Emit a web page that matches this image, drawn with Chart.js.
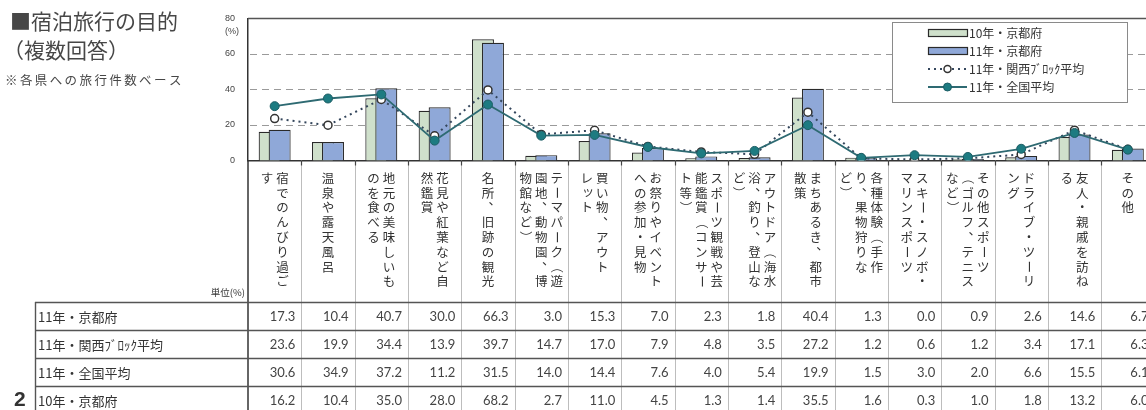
<!DOCTYPE html>
<html><head><meta charset="utf-8">
<script src="https://cdn.jsdelivr.net/npm/chart.js@4.4.1/dist/chart.umd.min.js"></script>
<style>
html,body{margin:0;padding:0;background:#fff;overflow:hidden;}
#wrap{position:absolute;left:0;top:0;width:1160px;height:410px;}
</style></head><body>
<div id="wrap"><canvas id="c"></canvas></div>
<script>
// ---- data ----
const categories = [
  ["宿でのんびり過ご","す"],
  ["温泉や露天風呂"],
  ["地元の美味しいも","のを食べる"],
  ["花見や紅葉など自","然鑑賞"],
  ["名所、旧跡の観光"],
  ["テーマパーク（遊","園地、動物園、博","物館など）"],
  ["買い物、アウト","レット"],
  ["お祭りやイベント","への参加・見物"],
  ["スポーツ観戦や芸","能鑑賞（コンサー","ト等）"],
  ["アウトドア（海水","浴、釣り、登山な","ど）"],
  ["まちあるき、都市","散策"],
  ["各種体験（手作","り、果物狩りな","ど）"],
  ["スキー・スノボ・","マリンスポーツ"],
  ["その他スポーツ","（ゴルフ、テニス","など）"],
  ["ドライブ・ツーリ","ング"],
  ["友人・親戚を訪ね","る"],
  ["その他"]
];
const kyoto10   = [16.2,10.4,35.0,28.0,68.2,2.7,11.0,4.5,1.3,1.4,35.5,1.6,0.3,1.0,1.8,13.2,6.0];
const kyoto11   = [17.3,10.4,40.7,30.0,66.3,3.0,15.3,7.0,2.3,1.8,40.4,1.3,0.0,0.9,2.6,14.6,6.7];
const kansai11  = [23.6,19.9,34.4,13.9,39.7,14.7,17.0,7.9,4.8,3.5,27.2,1.2,0.6,1.2,3.4,17.1,6.3];
const national11= [30.6,34.9,37.2,11.2,31.5,14.0,14.4,7.6,4.0,5.4,19.9,1.5,3.0,2.0,6.6,15.5,6.1];
const yTicks = [0,20,40,60,80];
const seriesNames = ["10年・京都府","11年・京都府","11年・関西ﾌﾞﾛｯｸ平均","11年・全国平均"];
const tableRows = [
  {name: seriesNames[1], values: kyoto11},
  {name: seriesNames[2], values: kansai11},
  {name: seriesNames[3], values: national11},
  {name: seriesNames[0], values: kyoto10}
];
const titleLines = ["■宿泊旅行の目的","（複数回答）"];
const noteText = "※各県への旅行件数ベース";
const unitText = "単位(%)";
const pageNo = "2";

const JP = '"Noto Sans CJK JP","Noto Sans CJK SC",sans-serif';
const NUM = 'Lato,"DejaVu Sans",sans-serif';
const GREEN = 2, BLUE = 3; // dataset indexes

const ROT = 'ー－（）〜～—';
const PUNCT = '、。';
const SMALL = 'ッャュョァィゥェォっゃゅょぁぃぅぇぉ';
function drawVert(ctx, str, x, y0, step, size){
  const chars = [...str];
  chars.forEach((ch,k)=>{
    const y = y0 + k*step;
    ctx.save(); ctx.translate(x,y);
    if (ROT.includes(ch)) ctx.rotate(Math.PI/2);
    else if (PUNCT.includes(ch)) ctx.translate(size*0.55,-size*0.55);
    else if (SMALL.includes(ch)) ctx.translate(size*0.1,-size*0.1);
    ctx.fillText(ch,0,0);
    ctx.restore();
  });
}

const gridPlugin = {
  id:'gridPlugin',
  beforeDatasetsDraw(chart){
    const {ctx, chartArea:a, scales:{y}} = chart;
    ctx.save();
    ctx.strokeStyle = '#9a9a9a'; ctx.lineWidth = 1; ctx.setLineDash([7,5]);
    yTicks.forEach(v=>{
      if (v===yTicks[0] || v===yTicks[yTicks.length-1]) return;
      const py = Math.round(y.getPixelForValue(v))+0.5;
      ctx.beginPath(); ctx.moveTo(a.left+2,py); ctx.lineTo(a.right,py); ctx.stroke();
    });
    ctx.setLineDash([]);
    ctx.strokeStyle = '#555'; ctx.lineWidth = 1.3;
    const top = Math.round(y.getPixelForValue(yTicks[yTicks.length-1]))+0.5;
    ctx.beginPath(); ctx.moveTo(a.left,top); ctx.lineTo(a.right,top); ctx.stroke();
    ctx.restore();
  }
};

const barOrderPlugin = {
  id:'barOrder',
  beforeDatasetsDraw(chart){
    const meta = chart.getDatasetMeta(GREEN);
    if (chart.isDatasetVisible(GREEN)) meta.controller.draw();
  },
  beforeDatasetDraw(chart,args){
    if (args.index === GREEN) return false;
  }
};

const decoPlugin = {
  id:'deco',
  afterDraw(chart){
    const {ctx, chartArea:a, scales:{x,y}} = chart;
    const n = categories.length;
    const w = x.getPixelForValue(1)-x.getPixelForValue(0);
    const zero = y.getPixelForValue(0);
    const H = chart.height;
    ctx.save();
    // titles
    ctx.fillStyle = '#474747'; ctx.textBaseline='middle'; ctx.textAlign='left';
    ctx.font = '21px '+JP;
    ctx.fillText(titleLines[0], 10, 21);
    ctx.fillText(titleLines[1], 3, 50);
    ctx.font = '12.5px '+JP; ctx.letterSpacing='2.4px';
    ctx.fillText(noteText, 5, 80);
    ctx.letterSpacing='0px';
    // (%) under top tick
    ctx.font = '9px "Liberation Sans",sans-serif'; ctx.fillStyle='#444';
    ctx.fillText('(%)', 225, 32);
    // separators in label area & table
    const tableTop = 302, rowH = 28;
    ctx.strokeStyle = '#bdbdbd'; ctx.lineWidth = 1;
    for (let i=1;i<=n;i++){
      const bx = Math.round(x.getPixelForValue(i)-w/2)+0.5;
      ctx.beginPath(); ctx.moveTo(bx,zero); ctx.lineTo(bx,H); ctx.stroke();
    }
    ctx.strokeStyle = '#444'; ctx.lineWidth = 1.2;
    for (let i=1;i<=n;i++){
      const bx = Math.round(x.getPixelForValue(i)-w/2)+0.5;
      ctx.beginPath(); ctx.moveTo(bx,zero); ctx.lineTo(bx,zero+5); ctx.stroke();
    }
    // axis continues down
    ctx.strokeStyle = '#333'; ctx.lineWidth = 1.5;
    ctx.beginPath(); ctx.moveTo(a.left,zero); ctx.lineTo(a.left,H); ctx.stroke();
    // vertical labels
    ctx.fillStyle = '#333'; ctx.font = '12.5px '+JP; ctx.textAlign='center'; ctx.textBaseline='middle';
    const gap = 15.5, step = 14.8, y0 = 178;
    categories.forEach((cols,i)=>{
      const cx = x.getPixelForValue(i);
      cols.forEach((s,k)=>{
        const colX = cx + ((cols.length-1)/2 - k)*gap;
        drawVert(ctx, s, colX, y0, step, 12.5);
      });
    });
    // unit
    ctx.font = '9.5px '+JP; ctx.textAlign='right'; ctx.fillStyle='#333';
    ctx.fillText(unitText, a.left-3, 292);
    // table
    ctx.strokeStyle = '#555'; ctx.lineWidth = 1.4;
    for (let r=0;r<=tableRows.length;r++){
      const ly = tableTop + r*rowH + 0.5;
      ctx.beginPath(); ctx.moveTo(35,ly); ctx.lineTo(chart.width,ly); ctx.stroke();
    }
    ctx.beginPath(); ctx.moveTo(35.5,tableTop); ctx.lineTo(35.5,H); ctx.stroke();
    tableRows.forEach((row,r)=>{
      const cy = tableTop + r*rowH + rowH/2 + 1;
      ctx.fillStyle = '#333'; ctx.textAlign='left'; ctx.font = '13px '+JP;
      ctx.fillText(row.name, 38, cy);
      ctx.fillStyle = '#444'; ctx.textAlign='right'; ctx.font = '13px '+NUM;
      row.values.forEach((v,i)=>{
        ctx.fillText(v.toFixed(1), x.getPixelForValue(i)+w/2-6, cy);
      });
    });
    // page number
    ctx.fillStyle='#333'; ctx.textAlign='left'; ctx.font='bold 21px "Liberation Sans",sans-serif';
    ctx.fillText(pageNo, 14, 400);
    // legend
    const ds = chart.data.datasets;
    const lx = 892, ly = 22, lw = 235, lh = 80;
    ctx.fillStyle = '#fff'; ctx.fillRect(lx,ly,lw,lh);
    ctx.strokeStyle = '#8a8a8a'; ctx.lineWidth = 1; ctx.strokeRect(lx+0.5,ly+0.5,lw,lh);
    const order = [GREEN, BLUE, 1, 0];
    const sx0 = 928, sx1 = 967;
    order.forEach((di,k)=>{
      const d = ds[di]; const iy = 33 + k*18;
      if (d.type === 'bar'){
        ctx.fillStyle = d.backgroundColor; ctx.fillRect(sx0, iy-3.5, sx1-sx0, 7);
        ctx.strokeStyle = d.borderColor; ctx.lineWidth = 1.2; ctx.strokeRect(sx0+0.5, iy-3.5, sx1-sx0, 7);
      } else {
        ctx.strokeStyle = d.borderColor; ctx.lineWidth = d.borderWidth;
        ctx.setLineDash(d.borderDash || []);
        ctx.beginPath(); ctx.moveTo(sx0, iy); ctx.lineTo(sx1, iy); ctx.stroke();
        ctx.setLineDash([]);
        ctx.beginPath(); ctx.arc((sx0+sx1)/2, iy, d.pointRadius-0.5, 0, Math.PI*2);
        ctx.fillStyle = d.pointBackgroundColor; ctx.fill();
        ctx.strokeStyle = d.pointBorderColor; ctx.lineWidth = d.pointBorderWidth; ctx.stroke();
      }
      ctx.fillStyle = '#333'; ctx.textAlign='left'; ctx.textBaseline='middle'; ctx.font='12px '+JP;
      ctx.fillText(d.label, sx1+2, iy);
    });
    ctx.restore();
  }
};

new Chart(document.getElementById('c'), {
  type:'bar',
  data:{
    labels: categories.map(c=>c.join('')),
    datasets:[
      {type:'line', label:seriesNames[3], data:national11, borderColor:'#2e6a72', borderWidth:1.8,
       pointRadius:4.5, pointBackgroundColor:'#1d7b81', pointBorderColor:'#1c5d64', pointBorderWidth:1, order:1, tension:0},
      {type:'line', label:seriesNames[2], data:kansai11, borderColor:'#34465c', borderWidth:2, borderDash:[2,4],
       pointRadius:4, pointBackgroundColor:'#ffffff', pointBorderColor:'#333', pointBorderWidth:1.5, order:2, tension:0},
      {type:'bar', label:seriesNames[0], data:kyoto10, backgroundColor:'#cfe0cb', borderColor:'#2a2a2a', borderWidth:1.2,
       categoryPercentage:0.375, barPercentage:2.2, order:3},
      {type:'bar', label:seriesNames[1], data:kyoto11, backgroundColor:'#8fa8d8', borderColor:'#2a2a2a', borderWidth:1.2,
       categoryPercentage:0.375, barPercentage:2.2, order:4}
    ]
  },
  options:{
    responsive:true, maintainAspectRatio:false, animation:false,
    layout:{padding:{top:16,right:4,bottom:249.5,left:0}},
    plugins:{legend:{display:false}, tooltip:{enabled:false}},
    events:[],
    scales:{
      x:{ticks:{display:false}, grid:{display:false},
         border:{display:true,color:'#333',width:1.5},
         afterFit(s){ s.height = 0; }},
      y:{min:yTicks[0], max:yTicks[yTicks.length-1],
         ticks:{stepSize:20, color:'#444', padding:13, font:{size:9, family:'"Liberation Sans",sans-serif'}},
         grid:{display:false, drawTicks:false},
         border:{display:true,color:'#333',width:1.5},
         afterFit(s){ s.width = 248; }}
    }
  },
  plugins:[gridPlugin, barOrderPlugin, decoPlugin]
});
</script>
</body></html>
